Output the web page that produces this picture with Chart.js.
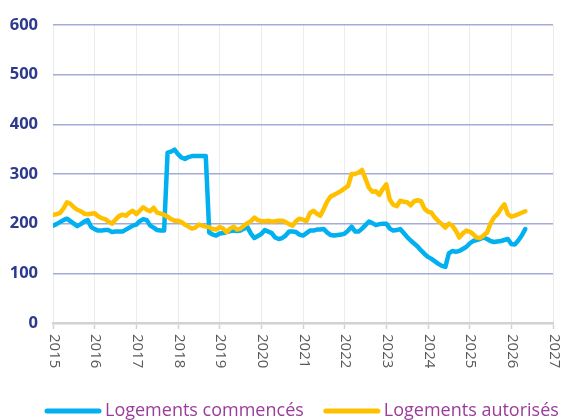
<!DOCTYPE html>
<html>
<head>
<meta charset="utf-8">
<script src="https://cdn.jsdelivr.net/npm/chart.js@4"></script>
<style>
  html, body { margin: 0; padding: 0; background: #ffffff; }
  #wrap { width: 565px; height: 420px; position: relative; }
</style>
</head>
<body>
<div id="wrap"><canvas id="c" width="565" height="420"></canvas></div>
<script>
// ---- Data (monthly, starting January 2015) ----
const startYear = 2015;
const seriesNames = ['Logements commencés', 'Logements autorisés'];
const seriesColors = ['#00b0f0', '#ffc000'];

const commences = [
  196,199,203,207,210,205,200,195,199,204,207,193,
  189,186,186,187,187,183,184,184,184,188,192,196,
  198,205,209,207,196,192,187,186,186,343,345,349,
  340,333,330,334,336,336,336,336,336,182,178,176,
  180,181,183,185,186,185,186,190,193,180,171,175,
  179,187,184,181,172,169,171,176,184,184,183,178,
  176,181,186,186,188,188,189,182,177,176,177,178,
  180,186,194,184,184,190,197,204,201,197,199,200,
  200,190,186,187,189,181,173,166,160,154,146,139,
  133,129,124,119,115,113,140,145,143,145,149,153,
  160,165,167,169,172,169,165,163,164,165,167,169,
  159,158,166,176,189
];

const autorises = [
  218,219,221,230,243,240,233,228,225,220,219,220,
  221,215,211,209,204,200,208,215,218,216,222,226,
  219,226,233,228,225,232,222,220,218,214,209,206,
  206,203,198,194,190,192,198,196,194,193,189,188,
  193,190,183,190,194,188,190,196,201,205,212,207,
  205,205,206,204,205,206,206,203,199,196,205,210,
  208,205,221,226,220,216,230,245,255,258,262,266,
  271,276,300,300,303,308,290,272,264,265,258,270,
  279,248,238,235,246,244,243,237,245,247,245,230,
  224,222,212,205,199,192,200,196,186,172,180,186,
  184,179,172,171,176,182,200,212,219,230,239,219,
  214,216,219,222,225
];

const yearLabels = ['2015','2016','2017','2018','2019','2020','2021','2022','2023','2024','2025','2026','2027'];
const yTicks = [0, 100, 200, 300, 400, 500, 600];

// build {x,y} points: x = decimal year of the month
function toPoints(values) {
  return values.map((v, i) => ({ x: startYear + i / 12, y: v }));
}

// ---- Plugin: rotated x labels (reading top to bottom) and legend ----
const customText = {
  id: 'customText',
  afterDraw(chart) {
    const ctx = chart.ctx;
    const xs = chart.scales.x;
    ctx.save();
    ctx.fillStyle = '#595959';
    ctx.font = '15px "Open Sans", "DejaVu Sans", sans-serif';
    ctx.textAlign = 'left';
    ctx.textBaseline = 'middle';
    xs.ticks.forEach((t) => {
      const px = xs.getPixelForValue(t.value);
      const label = yearLabels[Math.round(t.value) - startYear];
      if (label === undefined) return;
      ctx.save();
      ctx.translate(px + 1, xs.top + 11);
      ctx.rotate(Math.PI / 2);
      ctx.fillText(label, 0, 0);
      ctx.restore();
    });
    ctx.restore();

    // legend
    ctx.save();
    ctx.font = '18px "Open Sans", "DejaVu Sans", sans-serif';
    ctx.textBaseline = 'middle';
    ctx.textAlign = 'left';
    const yC = 411;
    let x = 45;
    chart.data.datasets.forEach((ds) => {
      ctx.strokeStyle = ds.borderColor;
      ctx.lineWidth = 5;
      ctx.lineCap = 'round';
      ctx.beginPath();
      ctx.moveTo(x + 2, yC);
      ctx.lineTo(x + 54, yC);
      ctx.stroke();
      ctx.fillStyle = '#9b3c9b';
      ctx.fillText(ds.label, x + 60, yC);
      x += 60 + ctx.measureText(ds.label).width + 20;
    });
    ctx.restore();
  }
};

new Chart(document.getElementById('c'), {
  type: 'line',
  data: {
    datasets: [
      {
        label: seriesNames[0],
        data: toPoints(commences),
        borderColor: seriesColors[0],
        backgroundColor: seriesColors[0],
        borderWidth: 4.5,
        pointRadius: 0,
        tension: 0,
        borderJoinStyle: 'round',
        borderCapStyle: 'round',
        order: 1
      },
      {
        label: seriesNames[1],
        data: toPoints(autorises),
        borderColor: seriesColors[1],
        backgroundColor: seriesColors[1],
        borderWidth: 4.5,
        pointRadius: 0,
        tension: 0,
        borderJoinStyle: 'round',
        borderCapStyle: 'round',
        order: 0
      }
    ]
  },
  options: {
    responsive: false,
    animation: false,
    layout: { padding: { left: 0, right: 12, top: 23, bottom: 0 } },
    plugins: {
      legend: { display: false },
      tooltip: { enabled: false }
    },
    scales: {
      x: {
        type: 'linear',
        min: 2015,
        max: 2027,
        ticks: { display: false, stepSize: 1 },
        grid: {
          color: '#ececec',
          lineWidth: 1,
          drawTicks: true,
          tickLength: 6,
          tickColor: '#d2d2d2',
          tickWidth: 1.5
        },
        border: { display: true, color: '#d2d2d2', width: 2.5 },
        afterFit(scale) { scale.height = 97; }
      },
      y: {
        min: 0,
        max: 600,
        afterBuildTicks(scale) { scale.ticks = yTicks.map(v => ({ value: v })); },
        ticks: {
          padding: 15,
          color: '#2d3a8c',
          font: { family: '"Open Sans", "DejaVu Sans", sans-serif', size: 16.5, weight: 'bold' }
        },
        grid: {
          drawTicks: false,
          color: (c) => (c.tick && c.tick.value === 0) ? 'rgba(0,0,0,0)' : '#a3abd6',
          lineWidth: 1.5
        },
        border: { display: false },
        afterFit(scale) { scale.width = 53; }
      }
    }
  },
  plugins: [customText]
});
</script>
</body>
</html>
